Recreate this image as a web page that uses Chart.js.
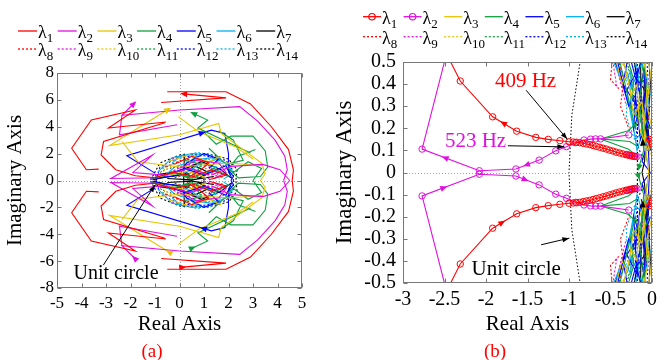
<!DOCTYPE html>
<html>
<head>
<meta charset="utf-8">
<script src="https://cdn.jsdelivr.net/npm/chart.js@4.4.1/dist/chart.umd.min.js"></script>
<style>
  body { margin: 0; background: #fff; }
  #wrap { position: relative; width: 662px; height: 360px; overflow: hidden; }
  #wrap canvas { position: absolute; left: 0; top: 0; }
  .tag { position: absolute; color: #ff0000; font: 19px "Liberation Serif", serif; transform: translate(-50%, -50%); }
</style>
</head>
<body>
<div id="wrap">
  <canvas id="chartA" width="662" height="360"></canvas>
  <canvas id="chartB" width="662" height="360"></canvas>
  <div class="tag" style="left:152px;top:351px">(a)</div>
  <div class="tag" style="left:495px;top:351px">(b)</div>
</div>
<script>
// tick values
const ticksAx = [-5, -4, -3, -2, -1, 0, 1, 2, 3, 4, 5];
const ticksAy = [-8, -6, -4, -2, 0, 2, 4, 6, 8];
const ticksBx = [-3, -2.5, -2, -1.5, -1, -0.5, 0];
const ticksBy = [-0.5, -0.4, -0.3, -0.2, -0.1, 0, 0.1, 0.2, 0.3, 0.4, 0.5];

const lamColors = ["#ff0000", "#e010e0", "#e6c400", "#10a040", "#0000ff", "#00b0f0", "#000000",
                   "#ff0000", "#e010e0", "#e6c400", "#10a040", "#0000ff", "#00b0f0", "#000000"];

// upper half (positive frequency) of each eigenvalue locus; the lower half is the conjugate
// full view, panel (a)
const lam1Wide = [
  [[4.6, 0], [4.65, 0.8], [4.45, 2.3], [3.75, 4.0], [2.9, 5.7], [1.9, 6.6], [-0.5, 6.6]],
  [[-0.75, 5.8], [1.9, 6.15], [0.15, 6.45]],
  [[-0.55, 4.35], [-2.9, 3.9], [-1.8, 5.25], [-3.6, 4.5], [-4.4, 2.4], [-3.8, 0.8], [-3.3, 0.85]],
  [[-0.6, 4.3], [-3.1, 2.9], [-3.2, 1.9], [-2.6, 0.8], [-1.8, 0.35], [-1.0, 0.2], [-0.3, 0.6], [0.6, 0.3], [1.3, 0.8], [1.9, 0.4], [1.2, 0.05]],
  [[-0.2, 1.2], [0.5, 1.8], [1.2, 1.3], [0.8, 0.7], [0.3, 0.15]]
];
const lam2Wide = [
  [[4.25, 0], [4.4, 0.8], [4.3, 1.8], [3.9, 3.0], [3.2, 4.4], [2.46, 5.5], [0, 5.25], [-2.35, 4.85], [-1.85, 5.75]],
  [[-2.35, 4.85], [-2.45, 3.4], [-0.1, 4.15]],
  [[-0.9, 0.2], [-2.8, 0.15], [-1.1, 1.9], [-1.9, 0.6], [-0.6, 0.4], [0.4, 0.9], [1.2, 0.4]],
  [[1.3, 0.4], [2.1, 1.05], [3.4, 1.2], [4.1, 0.8], [4.5, 0]],
  [[0.0, 0.9], [0.7, 1.5], [1.6, 1.3], [1.9, 0.6], [1.4, 0.15]]
];
const lam3Wide = [
  [[-0.45, 5.3], [-2.85, 2.6], [0, 3.4], [1.6, 4.25], [1.7, 3.5], [3.35, 1.3], [3.5, 0.5], [3.3, 0]],
  [[-2.35, 2.9], [-1.7, 1.4], [0, 1.0], [2.0, 1.3], [3.4, 1.1]],
  [[-0.05, 4.75], [0.8, 3.6], [2.3, 2.5], [3.0, 1.6]],
  [[-0.8, 0.3], [0.3, 0.7], [1.1, 0.2]],
  [[-0.5, 1.4], [0.4, 1.9], [1.2, 1.4], [1.7, 1.8]]
];
const lam4Wide = [
  [[0.55, 5.0], [1.15, 4.5], [0.75, 3.9], [2.9, 2.05]],
  [[1.0, 3.6], [1.5, 2.7], [2.1, 3.3], [3.0, 3.3], [3.5, 2.2], [3.6, 1.0], [3.3, 0.3], [2.4, 0.2], [2.0, 0.9], [2.4, 1.8], [3.1, 2.3]],
  [[1.2, 2.4], [1.9, 1.2], [2.6, 1.5], [2.2, 3.0], [1.6, 3.7]],
  [[3.0, 0], [3.35, 0.9], [2.8, 1.4], [2.2, 0.6]],
  [[-1.0, 0.25], [-0.2, 0.5], [0.6, 0.2], [1.4, 0.9], [2.0, 0.3]],
  [[-1.2, 0.05], [-0.3, 0.6], [0.5, 0.1], [0.9, 1.2], [0.2, 1.5]]
];
const lam5Wide = [
  [[-1.0, 0.55], [-2.15, 1.85], [1.3, 3.75], [1.85, 3.5], [2.0, 2.0], [2.0, 0.8], [2.2, 0.3], [2.1, 0]],
  [[-0.9, 0.15], [0.2, 0.9], [1.0, 0.4], [1.9, 1.1], [2.15, 0.1]],
  [[-1.2, 0.1], [0.0, 0.4], [0.3, 1.3], [1.0, 2.0], [1.6, 1.6], [1.2, 0.9]]
];
const lam6Wide = [
  [[-0.7, 0.2], [-0.2, 1.0], [0.6, 1.5], [1.3, 1.7], [1.9, 1.3], [2.2, 0.6], [1.8, 0.1]],
  [[0.0, 0.3], [0.5, 0.9], [1.1, 0.5], [1.5, 1.0], [0.9, 1.3], [0.3, 0.6]],
  [[-0.3, 1.3], [0.1, 1.9], [0.8, 1.8]],
  [[-0.9, 0.6], [-0.3, 1.7], [0.5, 2.0], [1.2, 1.9]]
];
const lam7Wide = [
  [[0.2, 2.0], [0.17, 0]],
  [[0.15, 0.4], [0.6, 1.1], [1.2, 0.6], [0.7, 0.1]],
  [[-1.0, 0.4], [0.0, 0.7], [0.9, 1.4], [1.7, 0.8], [2.1, 0.2]],
  [[-0.5, 0.15], [0.5, 0.05], [1.4, 0.3]],
  [[-1.1, 0.05], [-0.4, 0.3], [0.4, 0.5]]
];
const lam8Wide = [[[-0.6, 1.0], [0.2, 1.6], [1.0, 1.4], [1.4, 0.6], [0.8, 0.2], [0.0, 0.5]], [[-0.2, 0.2], [0.5, 0.6], [1.1, 0.9]]];
const lam9Wide = [[[-0.4, 0.6], [0.3, 1.2], [1.2, 1.1], [1.6, 0.4], [0.9, 0.0]], [[-0.3, 1.6], [0.4, 1.9]]];
const lam10Wide = [[[-0.8, 0.5], [0.0, 1.5], [1.3, 1.6], [2.0, 0.8]], [[0.2, 0.4], [0.9, 0.8], [1.6, 0.3]]];
const lam11Wide = [[[-0.7, 0.9], [0.4, 1.7], [1.5, 1.5], [2.1, 0.7], [1.6, 0.1]], [[-0.3, 0.3], [0.6, 0.5], [1.1, 1.6]]];
const lam12Wide = [[[-0.95, 0.0], [-0.8, 1.0], [0.0, 1.75], [1.0, 1.85], [1.9, 1.5], [2.2, 0.7], [2.2, 0]]];
const lam13Wide = [[[-0.5, 0.4], [0.2, 1.2], [1.0, 1.0], [1.5, 1.6], [1.9, 0.9]], [[0.0, 1.6], [0.7, 2.1], [1.3, 1.9]]];
const lam14Wide = [[[-1.1, 0.3], [-0.8, 1.3], [0.0, 1.9], [1.1, 2.0], [2.0, 1.6], [2.35, 0.8], [2.3, 0.0]]];

// close-up near the critical point, panel (b)
const lam1Zoom = [
  [[-2.83, 0.8], [-2.31, 0.414], [-1.92, 0.252], [-1.63, 0.187], [-1.40, 0.159], [-1.25, 0.150], [-1.11, 0.144], [-1.0, 0.139],
   [-0.95, 0.138], [-0.91, 0.137], [-0.87, 0.135], [-0.83, 0.132], [-0.79, 0.129], [-0.75, 0.126], [-0.71, 0.122],
   [-0.67, 0.118], [-0.63, 0.114], [-0.59, 0.110], [-0.55, 0.106], [-0.51, 0.101], [-0.47, 0.097], [-0.43, 0.092],
   [-0.39, 0.088], [-0.35, 0.084], [-0.31, 0.080], [-0.27, 0.077], [-0.24, 0.075], [-0.21, 0.073]],
  [[-0.03, 0.15], [-0.01, 0.14], [0.0, 0.13]]
];
const lam2Zoom = [
  [[-2.33, 0.75], [-2.77, 0.106], [-2.08, 0.008], [-1.64, 0.016], [-1.36, 0.056], [-1.16, 0.098], [-1.03, 0.117],
   [-0.92, 0.135], [-0.82, 0.147], [-0.74, 0.151], [-0.68, 0.152], [-0.62, 0.152], [-0.28, 0.17]],
  [[-0.30, 0.082], [-0.28, 0.079], [-0.26, 0.077], [-0.24, 0.075], [-0.22, 0.074], [-0.20, 0.073], [-0.18, 0.072]]
];
const lam3Zoom = [
  [[-0.50, 0.6], [-0.36, 0.40], [-0.30, 0.45], [-0.22, 0.26], [-0.12, 0.32], [-0.08, 0.12], [-0.04, 0.0]],
  [[-0.16, 0.6], [-0.05, 0.42], [-0.1, 0.2], [-0.02, 0.08]],
  [[-0.40, 0.6], [-0.25, 0.35], [-0.18, 0.40], [-0.15, 0.2], [-0.05, 0.1]],
  [[-0.08, 0.6], [-0.02, 0.45], [-0.06, 0.3], [0, 0.2]]
];
const lam4Zoom = [
  [[-0.62, 0.152], [-0.28, 0.19], [-0.2, 0.22]],
  [[-0.62, 0.152], [-0.27, 0.14], [-0.18, 0.12]],
  [[-0.62, 0.152], [-0.28, 0.105], [-0.2, 0.08]],
  [[-0.45, 0.6], [-0.28, 0.33], [-0.2, 0.2], [-0.14, 0.28], [-0.1, 0.1], [-0.16, 0.02]],
  [[-0.12, 0.6], [-0.06, 0.35], [-0.1, 0.18]],
  [[-0.36, 0.6], [-0.22, 0.42], [-0.25, 0.3], [-0.12, 0.22], [-0.06, 0.05]],
  [[-0.2, 0.6], [-0.1, 0.45], [-0.16, 0.32], [-0.03, 0.2]]
];
const lam5Zoom = [
  [[-0.48, 0.6], [-0.32, 0.36], [-0.18, 0.46], [-0.22, 0.2], [-0.08, 0.36], [-0.04, 0.15], [-0.12, 0.05], [-0.02, 0.0]],
  [[-0.32, 0.6], [-0.15, 0.36], [-0.1, 0.46], [-0.05, 0.25], [-0.13, 0.12]],
  [[-0.55, 0.6], [-0.40, 0.46], [-0.28, 0.3], [-0.2, 0.35], [-0.14, 0.15], [-0.06, 0.22], [-0.03, 0.0]],
  [[-0.26, 0.6], [-0.14, 0.5], [-0.2, 0.4], [-0.07, 0.42], [-0.1, 0.3], [-0.02, 0.2]],
  [[-0.45, 0.6], [-0.3, 0.5], [-0.35, 0.4], [-0.18, 0.3]]
];
const lam6Zoom = [
  [[-0.52, 0.6], [-0.36, 0.4], [-0.25, 0.46], [-0.26, 0.3], [-0.15, 0.22], [-0.1, 0.3], [-0.06, 0.1]],
  [[-0.42, 0.6], [-0.25, 0.38], [-0.12, 0.5], [-0.03, 0.3]],
  [[-0.58, 0.6], [-0.44, 0.48], [-0.33, 0.38], [-0.24, 0.25], [-0.18, 0.1], [-0.1, 0.2]],
  [[-0.36, 0.6], [-0.2, 0.52], [-0.15, 0.4], [-0.08, 0.45], [-0.02, 0.35]],
  [[-0.3, 0.35], [-0.2, 0.15], [-0.12, 0.18]]
];
const lam7Zoom = [
  [[-0.08, 0.6], [-0.1, 0.3], [-0.06, 0.22], [-0.09, 0.05], [-0.12, 0.0]],
  [[-0.14, 0.55], [-0.13, 0.3], [-0.11, 0.14]],
  [[-0.25, 0.6], [-0.18, 0.42], [-0.1, 0.38], [-0.05, 0.2], [-0.02, 0.1]],
  [[-0.05, 0.6], [-0.02, 0.4], [-0.04, 0.25]]
];
const lam8Zoom = [
  [[-0.47, 0.6], [-0.34, 0.42], [-0.38, 0.3], [-0.26, 0.18]],
  [[-0.1, 0.5], [-0.03, 0.3], [-0.06, 0.2]],
  [[-0.58, 0.62], [-0.48, 0.5], [-0.50, 0.42], [-0.40, 0.38]]
];
const lam9Zoom = [[[-0.53, 0.6], [-0.40, 0.44], [-0.31, 0.3]], [[-0.55, 0.55], [-0.48, 0.52], [-0.42, 0.38]], [[-0.15, 0.3], [-0.08, 0.18]]];
const lam10Zoom = [[[-0.12, 0.45], [-0.05, 0.28], [-0.09, 0.16]], [[-0.45, 0.58], [-0.35, 0.48]]];
const lam11Zoom = [[[-0.3, 0.5], [-0.2, 0.35], [-0.15, 0.45], [-0.1, 0.25]], [[-0.4, 0.55], [-0.26, 0.45], [-0.2, 0.25]]];
const lam12Zoom = [[[-0.22, 0.6], [-0.13, 0.3], [-0.2, 0.15], [-0.1, 0.05]], [[-0.5, 0.6], [-0.35, 0.5], [-0.25, 0.4], [-0.18, 0.25]], [[-0.06, 0.5], [-0.03, 0.3], [-0.06, 0.1]]];
const lam13Zoom = [[[-0.43, 0.5], [-0.29, 0.4], [-0.31, 0.25], [-0.2, 0.14]], [[-0.35, 0.6], [-0.22, 0.5], [-0.15, 0.35]]];
const lam14Zoom = [[[-0.176, 0.6], [-0.176, 0.0]]];

// upper half of |z| = 1
const unitCircle = [[1, 0], [0.966, 0.259], [0.866, 0.5], [0.707, 0.707], [0.5, 0.866], [0.259, 0.966], [0, 1],
  [-0.259, 0.966], [-0.5, 0.866], [-0.707, 0.707], [-0.866, 0.5], [-0.966, 0.259], [-1, 0]];

const lociWide = [lam1Wide, lam2Wide, lam3Wide, lam4Wide, lam5Wide, lam6Wide, lam7Wide,
                  lam8Wide, lam9Wide, lam10Wide, lam11Wide, lam12Wide, lam13Wide, lam14Wide];
const lociZoom = [lam1Zoom, lam2Zoom, lam3Zoom, lam4Zoom, lam5Zoom, lam6Zoom, lam7Zoom,
                  lam8Zoom, lam9Zoom, lam10Zoom, lam11Zoom, lam12Zoom, lam13Zoom, lam14Zoom];

const serif = '"Liberation Serif", "Times New Roman", serif';

// segments joined with gaps, then the mirrored (conjugate) branch
function conjugateLocus(segs) {
  const pts = [];
  segs.forEach(s => {
    s.forEach(p => pts.push({ x: p[0], y: p[1] }));
    pts.push({ x: null, y: null });
  });
  segs.forEach(s => {
    s.forEach(p => pts.push({ x: p[0], y: -p[1] }));
    pts.push({ x: null, y: null });
  });
  return pts;
}

function buildDatasets(loci, withMarkers) {
  const sets = loci.map((segs, i) => ({
    label: "λ" + (i + 1),
    data: conjugateLocus(segs),
    showLine: true,
    borderColor: lamColors[i],
    borderWidth: 1.1,
    borderDash: i >= 7 ? [2, 2] : [],
    pointRadius: withMarkers && i < 2 ? 3.2 : 0,
    pointHoverRadius: 0,
    pointBorderColor: lamColors[i],
    pointBackgroundColor: "rgba(0,0,0,0)",
    pointBorderWidth: 1
  }));
  sets.push({
    label: "unit circle",
    data: conjugateLocus([unitCircle]),
    showLine: true,
    borderColor: "#000",
    borderWidth: 1,
    borderDash: [1.5, 2],
    pointRadius: 0
  });
  return sets;
}

function arrowHead(ctx, x, y, ang, len, wid, color) {
  ctx.save();
  ctx.translate(x, y);
  ctx.rotate(ang);
  ctx.fillStyle = color;
  ctx.beginPath();
  ctx.moveTo(0, 0);
  ctx.lineTo(-len, -wid / 2);
  ctx.lineTo(-len, wid / 2);
  ctx.closePath();
  ctx.fill();
  ctx.restore();
}

// box, inward ticks on all four sides, dotted zero lines
const framePlugin = {
  id: "frame",
  beforeDatasetsDraw(chart) {
    const { ctx, chartArea: a, scales: { x, y } } = chart;
    const x0 = Math.round(x.getPixelForValue(0)) + 0.5;
    const y0 = Math.round(y.getPixelForValue(0)) + 0.5;
    ctx.save();
    ctx.strokeStyle = "#a0a0a0";
    ctx.lineWidth = 1;
    ctx.setLineDash([1, 2]);
    ctx.beginPath();
    ctx.moveTo(x0, a.top); ctx.lineTo(x0, a.bottom);
    ctx.moveTo(a.left, y0); ctx.lineTo(a.right, y0);
    ctx.stroke();
    ctx.restore();
  },
  afterDraw(chart) {
    const { ctx, chartArea: a, scales: { x, y } } = chart;
    const l = Math.round(a.left) + 0.5, r = Math.round(a.right) - 0.5;
    const t = Math.round(a.top) + 0.5, b = Math.round(a.bottom) - 0.5;
    ctx.save();
    ctx.strokeStyle = "#777";
    ctx.lineWidth = 1;
    ctx.strokeRect(l, t, r - l, b - t);
    ctx.beginPath();
    x.ticks.forEach(tk => {
      const px = Math.round(x.getPixelForValue(tk.value)) + 0.5;
      ctx.moveTo(px, b); ctx.lineTo(px, b - 4);
      ctx.moveTo(px, t); ctx.lineTo(px, t + 4);
    });
    y.ticks.forEach(tk => {
      const py = Math.round(y.getPixelForValue(tk.value)) + 0.5;
      ctx.moveTo(l, py); ctx.lineTo(l + 4, py);
      ctx.moveTo(r, py); ctx.lineTo(r - 4, py);
    });
    ctx.stroke();
    ctx.restore();
  }
};

// direction arrows placed on a locus segment; the conjugate branch runs the other way
function flowArrowPlugin(loci, items) {
  return {
    id: "flowArrows",
    afterDatasetsDraw(chart) {
      const { ctx, chartArea: a, scales: { x, y } } = chart;
      ctx.save();
      ctx.beginPath();
      ctx.rect(a.left, a.top, a.right - a.left, a.bottom - a.top);
      ctx.clip();
      items.forEach(it => {
        const seg = loci[it.s][it.k];
        const p = seg[it.i], q = seg[it.i + 1];
        [1, -1].forEach(sign => {
          const x1 = x.getPixelForValue(p[0]), y1 = y.getPixelForValue(sign * p[1]);
          const x2 = x.getPixelForValue(q[0]), y2 = y.getPixelForValue(sign * q[1]);
          let ang = Math.atan2(y2 - y1, x2 - x1);
          if (it.dir * sign < 0) ang += Math.PI;
          const mx = x1 + (x2 - x1) * it.t + Math.cos(ang) * 3;
          const my = y1 + (y2 - y1) * it.t + Math.sin(ang) * 3;
          arrowHead(ctx, mx, my, ang, 7, 6, lamColors[it.s]);
        });
      });
      ctx.restore();
    }
  };
}

// text labels with pointer arrows, given in data units
function notesPlugin(notes) {
  return {
    id: "notes",
    afterDraw(chart) {
      const { ctx, scales: { x, y } } = chart;
      ctx.save();
      notes.forEach(n => {
        const px = v => x.getPixelForValue(v[0]);
        const py = v => y.getPixelForValue(v[1]);
        ctx.font = n.size + "px " + serif;
        ctx.fillStyle = n.color;
        ctx.textAlign = "center";
        ctx.textBaseline = "middle";
        ctx.fillText(n.text, px(n.at), py(n.at));
        const x1 = px(n.from), y1 = py(n.from), x2 = px(n.to), y2 = py(n.to);
        ctx.strokeStyle = "#000";
        ctx.lineWidth = 1;
        ctx.beginPath();
        ctx.moveTo(x1, y1);
        ctx.lineTo(x2, y2);
        ctx.stroke();
        arrowHead(ctx, x2, y2, Math.atan2(y2 - y1, x2 - x1), 7, 5, "#000");
      });
      ctx.restore();
    }
  };
}

// two-row legend: λ1..λ7 solid, λ8..λ14 dotted
function legendPlugin(pos) {
  return {
    id: "lambdaLegend",
    afterDraw(chart) {
      const ctx = chart.ctx;
      ctx.save();
      chart.data.datasets.slice(0, 14).forEach((ds, i) => {
        const col = i % 7, row = Math.floor(i / 7);
        const x = pos.x0 + col * pos.dx;
        const y = pos.y0 + row * pos.dy;
        ctx.strokeStyle = ds.borderColor;
        ctx.lineWidth = 1.3;
        ctx.setLineDash(row ? [2, 2] : []);
        ctx.beginPath();
        ctx.moveTo(x, y);
        ctx.lineTo(x + pos.w, y);
        ctx.stroke();
        ctx.setLineDash([]);
        if (ds.pointRadius > 0) {
          ctx.lineWidth = 1.2;
          ctx.beginPath();
          ctx.arc(x + pos.w / 2, y, 3.2, 0, 2 * Math.PI);
          ctx.stroke();
        }
        ctx.fillStyle = "#000";
        ctx.textAlign = "left";
        ctx.textBaseline = "alphabetic";
        ctx.font = "18px " + serif;
        ctx.fillText("λ", x + pos.w + 1, y + 7);
        const lw = ctx.measureText("λ").width;
        ctx.font = "13px " + serif;
        ctx.fillText(String(i + 1), x + pos.w + 1 + lw, y + 11);
      });
      ctx.restore();
    }
  };
}

function makeChart(canvasId, cfg) {
  const axis = (range, ticks, size, pad, fitKey, fitVal, title) => ({
    type: "linear",
    min: range[0],
    max: range[1],
    afterBuildTicks: s => { s.ticks = ticks.map(v => ({ value: v })); },
    afterFit: s => { s[fitKey] = fitVal; },
    grid: { display: false, drawTicks: false },
    border: { display: false },
    ticks: {
      autoSkip: false,
      maxRotation: 0,
      padding: pad,
      color: "#000",
      font: { family: serif, size: size },
      callback: v => String(v)
    },
    title: title
  });
  return new Chart(document.getElementById(canvasId), {
    type: "scatter",
    data: { datasets: cfg.datasets },
    options: {
      responsive: false,
      animation: false,
      devicePixelRatio: 1,
      events: [],
      layout: { padding: cfg.padding },
      plugins: { legend: { display: false }, tooltip: { enabled: false } },
      scales: {
        x: axis(cfg.xRange, cfg.xTicks, cfg.tickSize, cfg.xPad, "height", cfg.xHeight, {
          display: true, text: "Real Axis", color: "#000",
          font: { family: serif, size: 21 }, padding: { top: 0, bottom: 3 }
        }),
        y: axis(cfg.yRange, cfg.yTicks, cfg.tickSize, cfg.yPad, "width", cfg.yWidth, {
          display: true, text: "Imaginary Axis", color: "#000",
          font: { family: serif, size: cfg.yTitleSize }, padding: { top: 3, bottom: 0 }
        })
      }
    },
    plugins: [framePlugin, flowArrowPlugin(cfg.loci, cfg.arrows), notesPlugin(cfg.notes), legendPlugin(cfg.legend)]
  });
}

document.addEventListener("DOMContentLoaded", function () {
  makeChart("chartA", {
    datasets: buildDatasets(lociWide, false),
    loci: lociWide,
    padding: { left: 0, right: 360, top: 73, bottom: 20 },
    xRange: [-5, 5], yRange: [-8, 8],
    xTicks: ticksAx, yTicks: ticksAy,
    tickSize: 17, xPad: 5, yPad: 3,
    xHeight: 52, yWidth: 57, yTitleSize: 21,
    arrows: [
      { s: 0, k: 1, i: 1, t: 1.0, dir: 1 },
      { s: 1, k: 0, i: 7, t: 1.0, dir: 1 },
      { s: 2, k: 0, i: 0, t: 0.0, dir: -1 },
      { s: 3, k: 0, i: 0, t: 0.0, dir: -1 },
      { s: 4, k: 0, i: 1, t: 0.9, dir: 1 }
    ],
    notes: [
      { text: "Unit circle", color: "#000", size: 20, at: [-2.59, -6.96], from: [-3.11, -6.3], to: [-1.0, -0.33] }
    ],
    legend: { x0: 18, y0: 31, dx: 39.7, dy: 18, w: 19 }
  });

  makeChart("chartB", {
    datasets: buildDatasets(lociZoom, true),
    loci: lociZoom,
    padding: { left: 328, right: 9, top: 62, bottom: 20 },
    xRange: [-3, 0], yRange: [-0.5, 0.5],
    xTicks: ticksBx, yTicks: ticksBy,
    tickSize: 20, xPad: 5, yPad: 7,
    xHeight: 57, yWidth: 75, yTitleSize: 23,
    arrows: [
      { s: 0, k: 0, i: 2, t: 0.42, dir: -1 },
      { s: 1, k: 0, i: 1, t: 0.39, dir: -1 },
      { s: 1, k: 0, i: 3, t: 0.43, dir: -1 },
      { s: 6, k: 1, i: 1, t: 1.0, dir: -1 },
      { s: 3, k: 3, i: 4, t: 1.0, dir: 1 }
    ],
    notes: [
      { text: "409 Hz", color: "#ff0000", size: 21, at: [-1.524, 0.412], from: [-1.516, 0.372], to: [-1.02, 0.15] },
      { text: "523 Hz", color: "#e010e0", size: 21, at: [-2.126, 0.139], from: [-1.736, 0.121], to: [-1.056, 0.116] },
      { text: "Unit circle", color: "#000", size: 21, at: [-1.636, -0.44], from: [-1.336, -0.327], to: [-0.996, -0.297] }
    ],
    legend: { x0: 363, y0: 16.7, dx: 40.6, dy: 20, w: 18 }
  });
});
</script>
</body>
</html>
